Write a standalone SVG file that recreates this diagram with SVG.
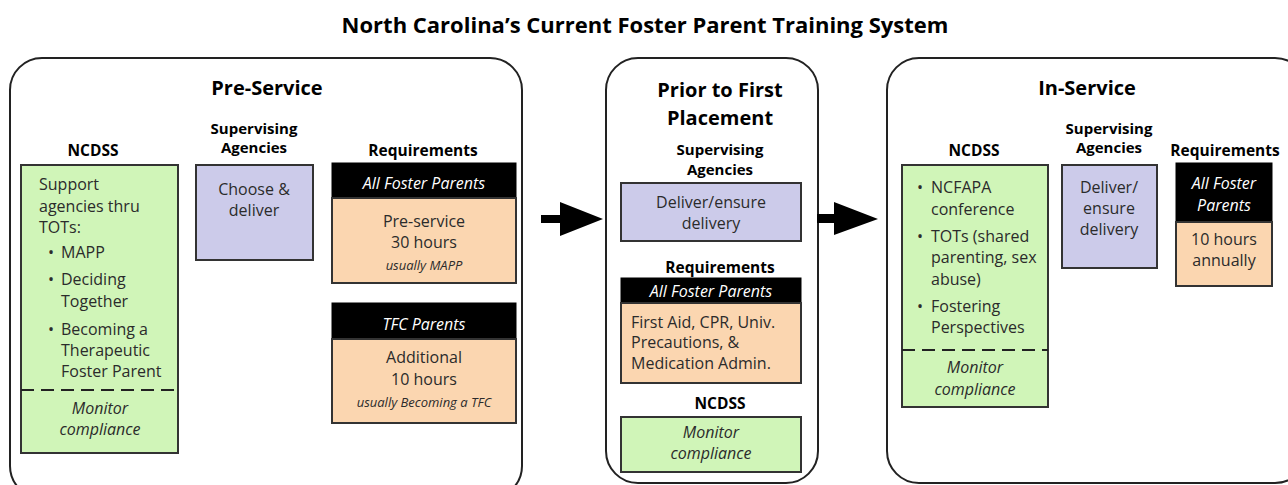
<svg xmlns="http://www.w3.org/2000/svg" width="1288" height="485" viewBox="0 0 1288 485">
<style>
text{font-family:"Open Sans","Liberation Sans",sans-serif;fill:#2b2b2b}
.title{font-size:22px;font-weight:bold;fill:#000;text-anchor:middle}
.stage{font-size:20px;font-weight:bold;fill:#000;text-anchor:middle}
.hd{font-size:15.5px;font-weight:bold;fill:#000;text-anchor:middle}
.hd2{font-size:15px;font-weight:bold;fill:#000;text-anchor:middle}
.t{font-size:16px}
.c{text-anchor:middle}
.i{font-style:italic}
.s{font-size:13px;font-style:italic;text-anchor:middle}
.wh{fill:#fff;font-style:italic;font-size:16px;text-anchor:middle}
.outer{fill:#fff;stroke:#222;stroke-width:2}
.green{fill:#d0f5b8;stroke:#333;stroke-width:2}
.purple{fill:#cccbea;stroke:#333;stroke-width:2}
.orange{fill:#fbd6b0;stroke:#333;stroke-width:2}
.black{fill:#000;stroke:#000;stroke-width:1}
.dash{stroke:#222;stroke-width:2;stroke-dasharray:13,7;fill:none}
</style>
<rect width="1288" height="485" fill="#fff"/>
<text class="title" x="645" y="33">North Carolina’s Current Foster Parent Training System</text>

<g id="pre-service">
<rect class="outer" x="10" y="58" width="512" height="440" rx="32"/>
<text class="stage" x="267" y="95">Pre-Service</text>
<text class="hd" x="93" y="156">NCDSS</text>
<text class="hd2" x="254" y="134">Supervising</text>
<text class="hd2" x="254" y="153">Agencies</text>
<text class="hd" x="423" y="156">Requirements</text>
</g>
<g id="pre-ncdss">
<rect class="green" x="21" y="165" width="157" height="288"/>
<text class="t" x="39" y="190">Support</text>
<text class="t" x="39" y="212">agencies thru</text>
<text class="t" x="39" y="233">TOTs:</text>
<text class="t" x="48" y="258">•</text><text class="t" x="61" y="258">MAPP</text>
<text class="t" x="48" y="285">•</text><text class="t" x="61" y="285">Deciding</text>
<text class="t" x="61" y="307">Together</text>
<text class="t" x="48" y="335">•</text><text class="t" x="61" y="335">Becoming a</text>
<text class="t" x="61" y="356">Therapeutic</text>
<text class="t" x="61" y="377">Foster Parent</text>
<line class="dash" x1="21" y1="390" x2="178" y2="390"/>
<text class="t c i" x="100" y="414">Monitor</text>
<text class="t c i" x="100" y="435">compliance</text>
</g>
<g id="pre-agencies">
<rect class="purple" x="196" y="165" width="117" height="95"/>
<text class="t c" x="254" y="195">Choose &amp;</text>
<text class="t c" x="254" y="216">deliver</text>
</g>
<g id="pre-req-all">
<rect class="black" x="332" y="163" width="184" height="35"/>
<text class="wh" x="424" y="189">All Foster Parents</text>
<rect class="orange" x="332" y="198" width="184" height="85"/>
<text class="t c" x="424" y="227">Pre-service</text>
<text class="t c" x="424" y="248">30 hours</text>
<text class="s" x="424" y="270">usually MAPP</text>
</g>
<g id="pre-req-tfc">
<rect class="black" x="332" y="303" width="184" height="36"/>
<text class="wh" x="424" y="330">TFC Parents</text>
<rect class="orange" x="332" y="339" width="184" height="84"/>
<text class="t c" x="424" y="363">Additional</text>
<text class="t c" x="424" y="385">10 hours</text>
<text class="s" x="424" y="407">usually Becoming a TFC</text>
</g>

<g id="prior">
<rect class="outer" x="606" y="58" width="212" height="425" rx="32"/>
<text class="stage" x="720" y="97">Prior to First</text>
<text class="stage" x="720" y="125">Placement</text>
<text class="hd2" x="720" y="155">Supervising</text>
<text class="hd2" x="720" y="175">Agencies</text>
<text class="hd" x="720" y="273">Requirements</text>
<text class="hd" x="720" y="409">NCDSS</text>
</g>
<g id="prior-agencies">
<rect class="purple" x="621" y="183" width="180" height="58"/>
<text class="t c" x="711" y="208">Deliver/ensure</text>
<text class="t c" x="711" y="229">delivery</text>
</g>
<g id="prior-req">
<rect class="black" x="621" y="278" width="180" height="25"/>
<text class="wh" x="711" y="297">All Foster Parents</text>
<rect class="orange" x="621" y="303" width="180" height="80"/>
<text class="t" x="631" y="328">First Aid, CPR, Univ.</text>
<text class="t" x="631" y="348">Precautions, &amp;</text>
<text class="t" x="631" y="369">Medication Admin.</text>
</g>
<g id="prior-ncdss">
<rect class="green" x="621" y="417" width="180" height="55"/>
<text class="t c i" x="711" y="438">Monitor</text>
<text class="t c i" x="711" y="459">compliance</text>
</g>

<g id="in-service">
<rect class="outer" x="887" y="58" width="420" height="425" rx="32"/>
<text class="stage" x="1087" y="95">In-Service</text>
<text class="hd" x="974" y="156">NCDSS</text>
<text class="hd2" x="1109" y="134">Supervising</text>
<text class="hd2" x="1109" y="153">Agencies</text>
<text class="hd" x="1225" y="156">Requirements</text>
</g>
<g id="in-ncdss">
<rect class="green" x="902" y="165" width="146" height="242"/>
<text class="t" x="917" y="193">•</text><text class="t" x="931" y="193">NCFAPA</text>
<text class="t" x="931" y="215">conference</text>
<text class="t" x="917" y="242">•</text><text class="t" x="931" y="242">TOTs (shared</text>
<text class="t" x="931" y="263">parenting, sex</text>
<text class="t" x="931" y="285">abuse)</text>
<text class="t" x="917" y="312">•</text><text class="t" x="931" y="312">Fostering</text>
<text class="t" x="931" y="333">Perspectives</text>
<line class="dash" x1="902" y1="350" x2="1048" y2="350"/>
<text class="t c i" x="975" y="373">Monitor</text>
<text class="t c i" x="975" y="395">compliance</text>
</g>
<g id="in-agencies">
<rect class="purple" x="1062" y="165" width="95" height="103"/>
<text class="t c" x="1109" y="193">Deliver/</text>
<text class="t c" x="1109" y="214">ensure</text>
<text class="t c" x="1109" y="235">delivery</text>
</g>
<g id="in-req">
<rect class="black" x="1176" y="163" width="96" height="59"/>
<text class="wh" x="1224" y="189">All Foster</text>
<text class="wh" x="1224" y="211">Parents</text>
<rect class="orange" x="1176" y="222" width="96" height="64"/>
<text class="t c" x="1224" y="245">10 hours</text>
<text class="t c" x="1224" y="266">annually</text>
</g>

<g id="connectors" fill="#000">
<polygon points="541,215 560,215 560,202 603,219 560,236 560,223 541,223"/>
<polygon points="817,214 834,214 834,202 878,219 834,235 834,223 817,223"/>
</g>
</svg>
